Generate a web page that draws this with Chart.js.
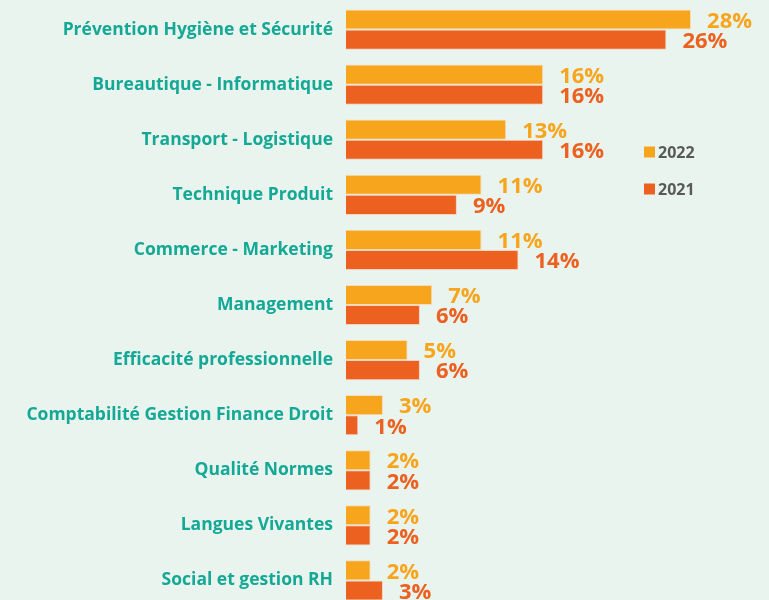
<!DOCTYPE html>
<html>
<head>
<meta charset="utf-8">
<script src="https://cdn.jsdelivr.net/npm/chart.js@4"></script>
<style>
  html, body { margin: 0; padding: 0; background: #e9f4ef; overflow: hidden; }
  canvas { display: block; }
</style>
</head>
<body>
<canvas id="trainingChart" width="769" height="608"></canvas>
<script>
const categories = [
  'Prévention Hygiène et Sécurité',
  'Bureautique - Informatique',
  'Transport - Logistique',
  'Technique Produit',
  'Commerce - Marketing',
  'Management',
  'Efficacité professionnelle',
  'Comptabilité Gestion Finance Droit',
  'Qualité Normes',
  'Langues Vivantes',
  'Social et gestion RH'
];
const values2022 = [28, 16, 13, 11, 11, 7, 5, 3, 2, 2, 2];
const values2021 = [26, 16, 16, 9, 14, 6, 6, 1, 2, 2, 3];
const seriesLabels = ['2022', '2021'];

const color2022 = '#f7a51c';
const color2021 = '#ec611f';
const teal = '#14a895';

// value labels at the end of each bar
const valueLabels = {
  id: 'valueLabels',
  afterDatasetsDraw(chart) {
    const ctx = chart.ctx;
    ctx.save();
    ctx.font = 'bold 22px "Open Sans"';
    ctx.textBaseline = 'middle';
    ctx.textAlign = 'left';
    chart.data.datasets.forEach((ds, i) => {
      const meta = chart.getDatasetMeta(i);
      ctx.fillStyle = ds.backgroundColor;
      meta.data.forEach((bar, j) => {
        ctx.fillText(ds.data[j] + '%', bar.x + 16, bar.y + 2);
      });
    });
    ctx.restore();
  }
};

// legend placed at the right, as in the original
const sideLegend = {
  id: 'sideLegend',
  afterDraw(chart) {
    const ctx = chart.ctx;
    ctx.save();
    ctx.font = 'bold 16px "Open Sans"';
    ctx.textBaseline = 'middle';
    chart.data.datasets.forEach((ds, i) => {
      const y = 152 + i * 37;
      ctx.fillStyle = ds.backgroundColor;
      ctx.fillRect(644, y - 5.5, 11, 11);
      ctx.fillStyle = '#595959';
      ctx.fillText(ds.label, 658, y + 1);
    });
    ctx.restore();
  }
};

new Chart(document.getElementById('trainingChart'), {
  type: 'bar',
  data: {
    labels: categories,
    datasets: [
      {
        label: seriesLabels[0],
        data: values2022,
        backgroundColor: color2022,
        borderColor: '#f6dcb8',
        borderWidth: 1
      },
      {
        label: seriesLabels[1],
        data: values2021,
        backgroundColor: color2021,
        borderColor: '#f6d2bd',
        borderWidth: 1
      }
    ]
  },
  options: {
    indexAxis: 'y',
    responsive: false,
    animation: false,
    layout: { padding: { top: 2, bottom: 0, left: 0, right: 4 } },
    datasets: {
      bar: { categoryPercentage: 0.73, barPercentage: 1 }
    },
    scales: {
      x: {
        display: false,
        min: 0,
        max: 34
      },
      y: {
        afterFit(scale) {
          scale.width = 346;
          scale.paddingTop = 0;
          scale.paddingBottom = 0;
        },
        grid: { display: false },
        border: { display: false },
        ticks: {
          color: teal,
          padding: 5,
          font: { family: '"Open Sans"', size: 17.5, weight: 'bold' }
        }
      }
    },
    plugins: {
      legend: { display: false },
      tooltip: { enabled: false }
    }
  },
  plugins: [valueLabels, sideLegend]
});
</script>
</body>
</html>
